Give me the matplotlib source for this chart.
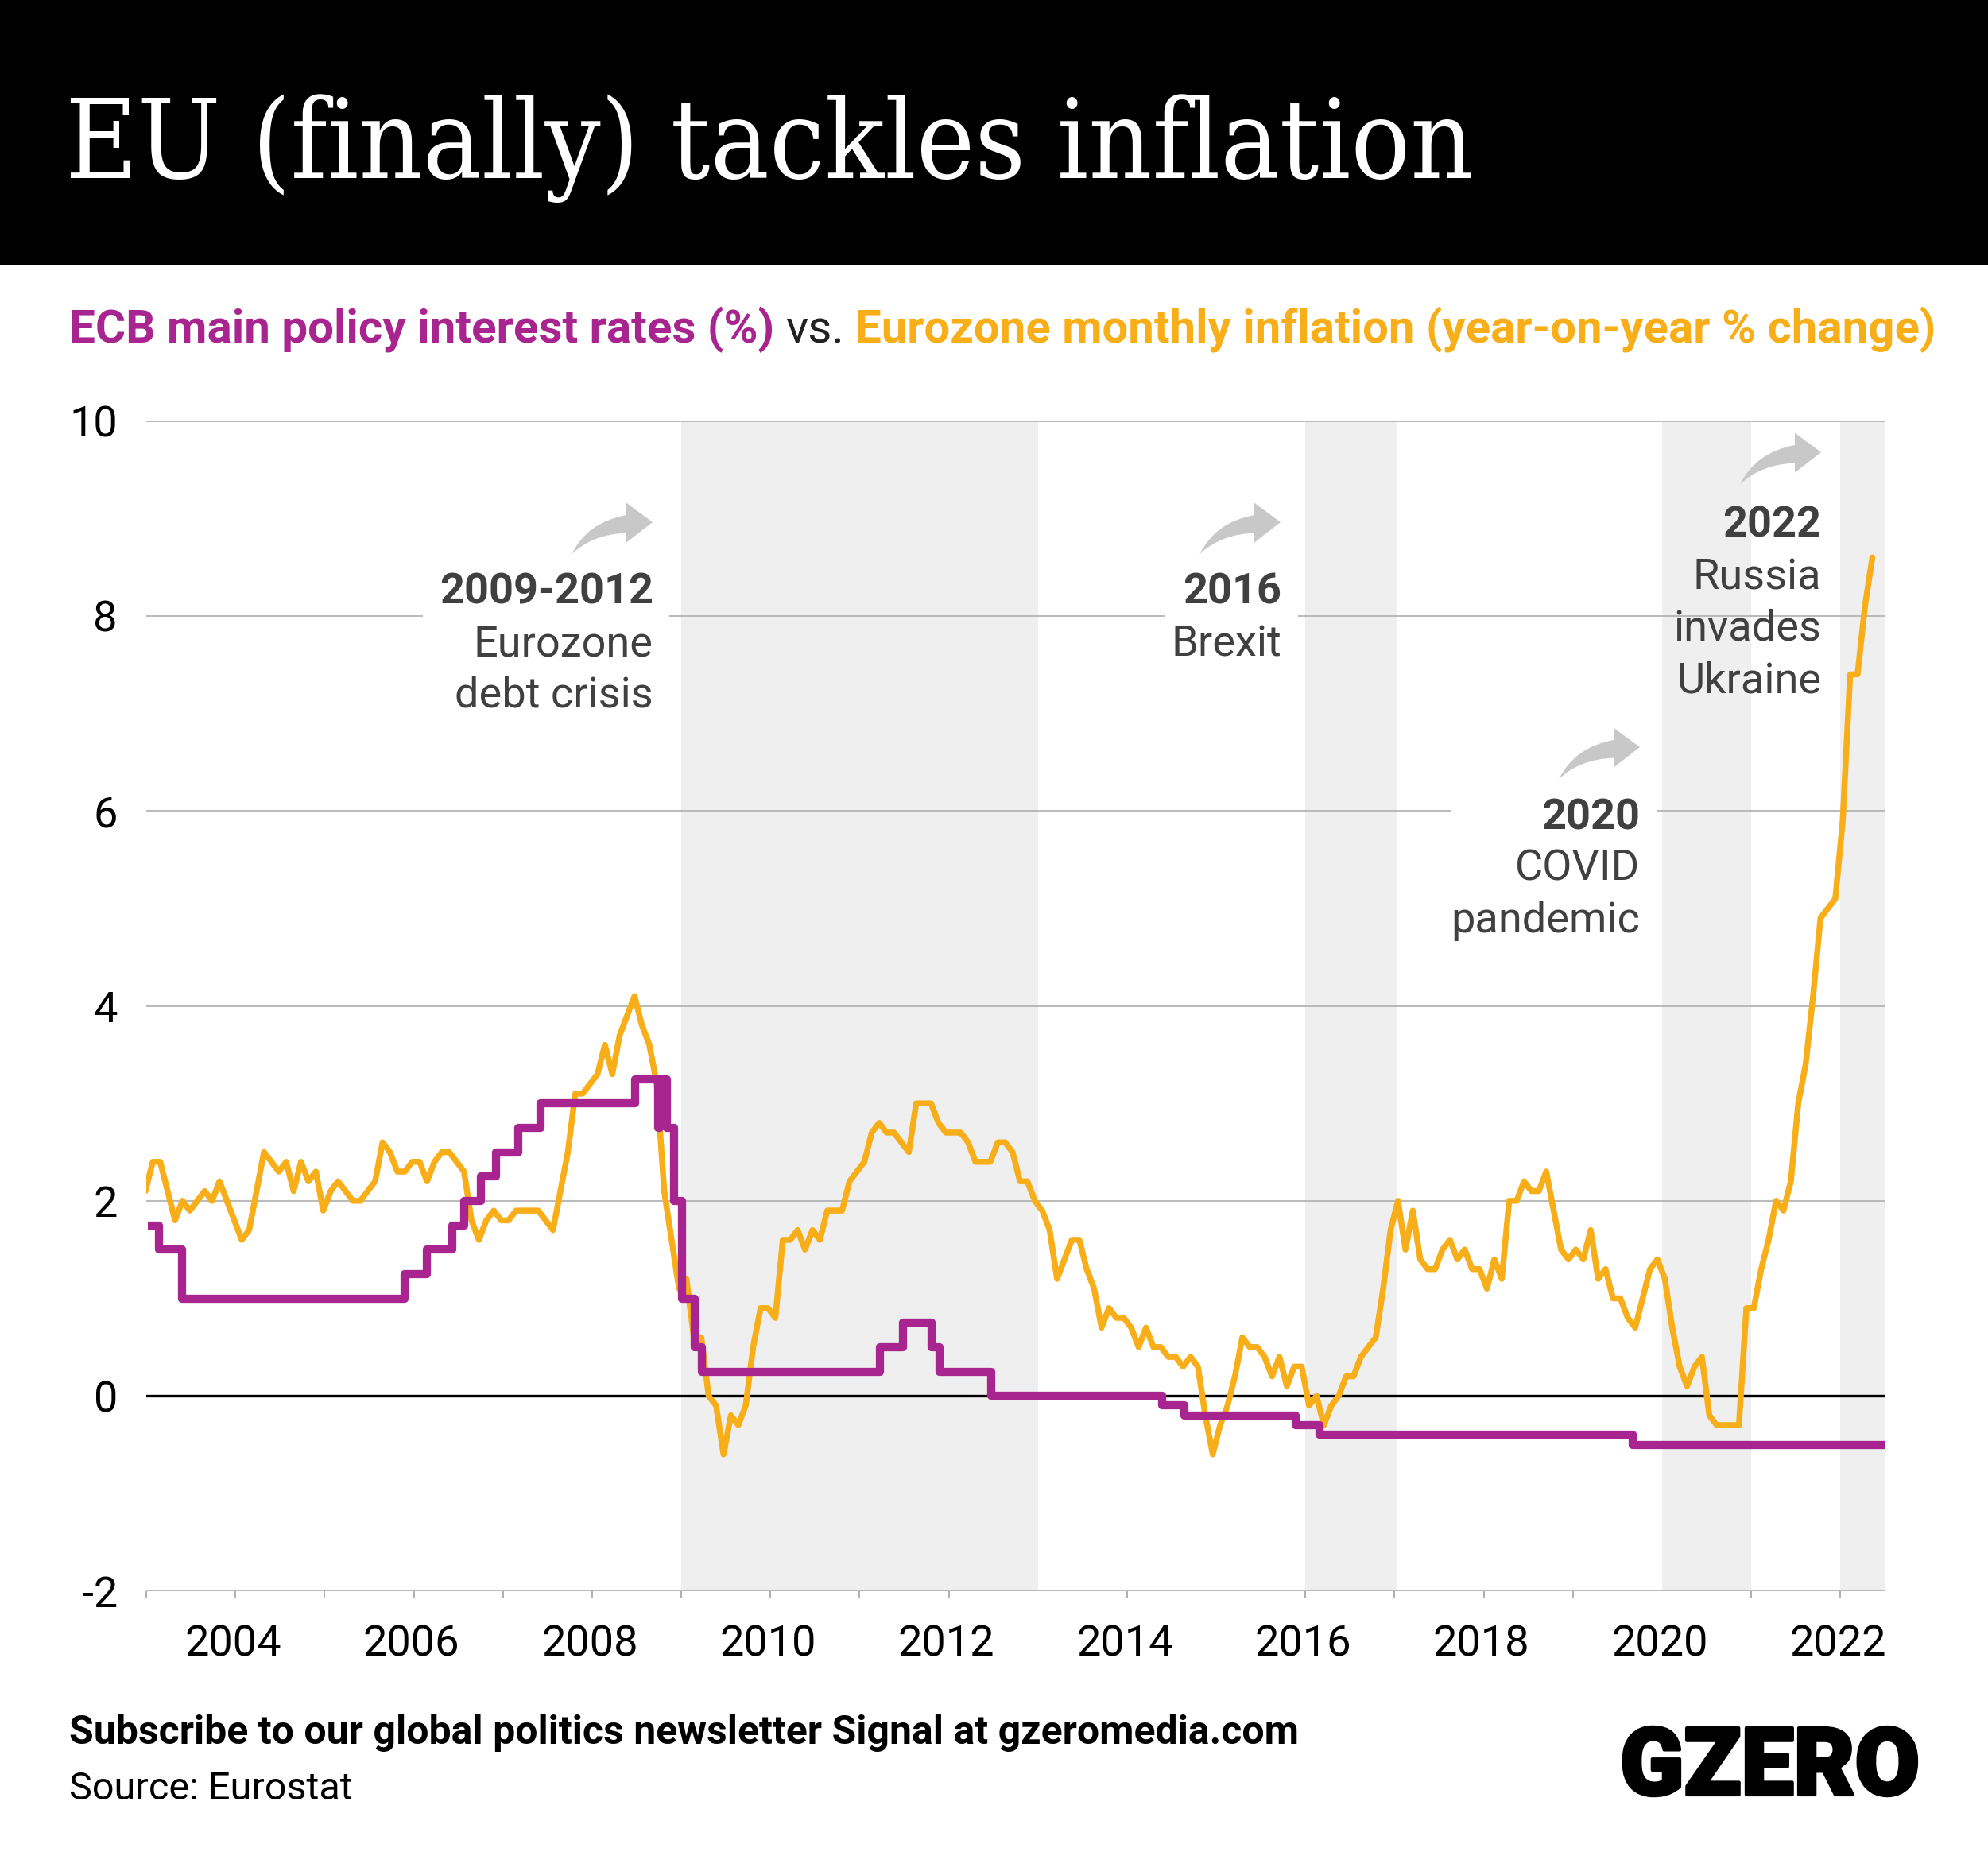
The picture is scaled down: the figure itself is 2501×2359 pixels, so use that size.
#!/usr/bin/env python3
import matplotlib
matplotlib.use('Agg')

import matplotlib.pyplot as plt
import matplotlib.patheffects as pe
import matplotlib.transforms as mtrans
import numpy as np
from matplotlib.patches import PathPatch, Rectangle
from matplotlib.path import Path
from matplotlib.ticker import FixedLocator

W, H = 2501, 2359

plt.rcParams['font.family'] = ['Roboto', 'DejaVu Sans']

# monthly inflation, one list per year (Jan 2003 - Jun 2022)
infl_2003 = [2.1, 2.4, 2.4, 2.1, 1.8, 2.0, 1.9, 2.0, 2.1, 2.0, 2.2, 2.0]
infl_2004 = [1.8, 1.6, 1.7, 2.1, 2.5, 2.4, 2.3, 2.4, 2.1, 2.4, 2.2, 2.3]
infl_2005 = [1.9, 2.1, 2.2, 2.1, 2.0, 2.0, 2.1, 2.2, 2.6, 2.5, 2.3, 2.3]
infl_2006 = [2.4, 2.4, 2.2, 2.4, 2.5, 2.5, 2.4, 2.3, 1.8, 1.6, 1.8, 1.9]
infl_2007 = [1.8, 1.8, 1.9, 1.9, 1.9, 1.9, 1.8, 1.7, 2.1, 2.5, 3.1, 3.1]
infl_2008 = [3.2, 3.3, 3.6, 3.3, 3.7, 3.9, 4.1, 3.8, 3.6, 3.2, 2.1, 1.6]
infl_2009 = [1.1, 1.2, 0.6, 0.6, 0.0, -0.1, -0.6, -0.2, -0.3, -0.1, 0.5, 0.9]
infl_2010 = [0.9, 0.8, 1.6, 1.6, 1.7, 1.5, 1.7, 1.6, 1.9, 1.9, 1.9, 2.2]
infl_2011 = [2.3, 2.4, 2.7, 2.8, 2.7, 2.7, 2.6, 2.5, 3.0, 3.0, 3.0, 2.8]
infl_2012 = [2.7, 2.7, 2.7, 2.6, 2.4, 2.4, 2.4, 2.6, 2.6, 2.5, 2.2, 2.2]
infl_2013 = [2.0, 1.9, 1.7, 1.2, 1.4, 1.6, 1.6, 1.3, 1.1, 0.7, 0.9, 0.8]
infl_2014 = [0.8, 0.7, 0.5, 0.7, 0.5, 0.5, 0.4, 0.4, 0.3, 0.4, 0.3, -0.2]
infl_2015 = [-0.6, -0.3, -0.1, 0.2, 0.6, 0.5, 0.5, 0.4, 0.2, 0.4, 0.1, 0.3]
infl_2016 = [0.3, -0.1, 0.0, -0.3, -0.1, 0.0, 0.2, 0.2, 0.4, 0.5, 0.6, 1.1]
infl_2017 = [1.7, 2.0, 1.5, 1.9, 1.4, 1.3, 1.3, 1.5, 1.6, 1.4, 1.5, 1.3]
infl_2018 = [1.3, 1.1, 1.4, 1.2, 2.0, 2.0, 2.2, 2.1, 2.1, 2.3, 1.9, 1.5]
infl_2019 = [1.4, 1.5, 1.4, 1.7, 1.2, 1.3, 1.0, 1.0, 0.8, 0.7, 1.0, 1.3]
infl_2020 = [1.4, 1.2, 0.7, 0.3, 0.1, 0.3, 0.4, -0.2, -0.3, -0.3, -0.3, -0.3]
infl_2021 = [0.9, 0.9, 1.3, 1.6, 2.0, 1.9, 2.2, 3.0, 3.4, 4.1, 4.9, 5.0]
infl_2022 = [5.1, 5.9, 7.4, 7.4, 8.1, 8.6]

# ECB rate: date of each change and the new level
rate_dates = [2003.02, 2003.14, 2003.40, 2005.90, 2006.15, 2006.43, 2006.57,
              2006.75, 2006.92, 2007.17, 2007.42, 2008.48, 2008.74, 2008.76,
              2008.84, 2008.92, 2009.01, 2009.15, 2009.23, 2011.23, 2011.49,
              2011.81, 2011.90, 2012.48, 2014.39, 2014.64, 2015.89, 2016.16,
              2019.67, 2022.50]
rate_values = [1.75, 1.5, 1.0, 1.25, 1.5, 1.75, 2.0,
               2.25, 2.5, 2.75, 3.0, 3.25, 2.75, 3.25,
               2.75, 2.0, 1.0, 0.5, 0.25, 0.5, 0.75,
               0.5, 0.25, 0.0, -0.1, -0.2, -0.3, -0.4,
               -0.5, -0.5]

shaded_years = [(2009, 2013), (2016, 2017.03), (2020, 2021), (2022, 2022.5)]
y_ticks = [-2, 0, 2, 4, 6, 8, 10]
label_years = [2004, 2006, 2008, 2010, 2012, 2014, 2016, 2018, 2020, 2022]
tick_years = [2003, 2004, 2005, 2006, 2007, 2008, 2009, 2010, 2011, 2012, 2014,
              2016, 2017, 2018, 2019, 2021, 2022]

PURPLE = '#A8258F'
AMBER = '#F7AE18'
DARK = '#404040'


def fx(px):
  return px / W


def fy(px):
  return 1 - px / H


def label(x, y, s, **kw):
  kw.setdefault('va', 'baseline')
  return fig.text(fx(x), fy(y), s, **kw)


def curved_arrow(tip_x, tip_y):
  # block arrow, offsets in pixels from the tip (y down)
  pts = [(0, 0), (-33, 25.6), (-33, 13.6), (-75, 15), (-101.7, 40),
         (-82, 0), (-33, -9), (-33, -24.4), (0, 0)]
  codes = [Path.MOVETO, Path.LINETO, Path.LINETO, Path.CURVE3, Path.CURVE3,
           Path.CURVE3, Path.CURVE3, Path.LINETO, Path.CLOSEPOLY]
  verts = [(fx(tip_x + dx), fy(tip_y + dy)) for dx, dy in pts]
  fig.add_artist(PathPatch(Path(verts, codes), facecolor='#C8C8C8',
                           edgecolor='none', transform=fig.transFigure, zorder=5))


fig = plt.figure(figsize=(W / 100, H / 100), dpi=100, facecolor='white')
fig.add_artist(Rectangle((0, fy(333)), 1, 333 / H, facecolor='black', edgecolor='none',
                         transform=fig.transFigure, zorder=0))

ax = fig.add_axes([fx(184), fy(2001.5), (2372 - 184) / W, (2001.5 - 529.5) / H])
ax.set_xlim(2003, 2022.505)
ax.set_ylim(-2, 10)
ax.patch.set_visible(False)

for start, end in shaded_years:
  ax.axvspan(start, end, facecolor='#EFEFEF', edgecolor='none', zorder=0)

for y in y_ticks:
  if y == 0:
    continue
  ax.axhline(y, color='#B4B4B4', lw=1.3, zorder=1)
ax.axhline(0, color='black', lw=2.4, zorder=2)

# white breaks in the gridlines behind the annotations
for x0, x1, y in [(2006.10, 2008.87, 8), (2014.42, 2015.92, 8), (2017.64, 2019.95, 6)]:
  ax.add_patch(Rectangle((x0, y - 0.1), x1 - x0, 0.2, facecolor='white', edgecolor='none', zorder=1.5))

inflation = np.concatenate([infl_2003, infl_2004, infl_2005, infl_2006, infl_2007,
                            infl_2008, infl_2009, infl_2010, infl_2011, infl_2012,
                            infl_2013, infl_2014, infl_2015, infl_2016, infl_2017,
                            infl_2018, infl_2019, infl_2020, infl_2021, infl_2022])
# months sit a touch left of the year ticks in the original
months = 2003 - 0.01 + np.arange(len(inflation)) / 12.03

ax.plot(months, inflation, color=AMBER, lw=5.4, solid_joinstyle='round',
        solid_capstyle='round', zorder=3)
ax.plot(rate_dates, rate_values, color=PURPLE, lw=7.4, drawstyle='steps-post',
        solid_joinstyle='round', solid_capstyle='butt', zorder=4)

for s in ['top', 'right', 'left', 'bottom']:
  ax.spines[s].set_visible(False)
ax.xaxis.remove_overlapping_locs = False
ax.xaxis.set_major_locator(FixedLocator(label_years))
ax.xaxis.set_minor_locator(FixedLocator(tick_years))
ax.set_xticklabels([str(y) for y in label_years])
ax.set_yticks(y_ticks)
ax.set_yticklabels([str(y) for y in y_ticks])
ax.tick_params(axis='y', length=0, pad=26, labelsize=39, labelcolor='black')
ax.tick_params(axis='x', which='major', length=0, pad=30, labelsize=39, labelcolor='black')
ax.tick_params(axis='x', which='minor', length=5.5, width=1.1, color='#999999')

# year labels sit slightly left of their ticks
shift = mtrans.ScaledTranslation(-3 / 100, 0, fig.dpi_scale_trans)
for tick_label in ax.get_xticklabels():
  tick_label.set_transform(tick_label.get_transform() + shift)

# title band
label(82, 224, 'EU (finally) tackles inflation', color='white', fontsize=99.5,
      family=['DejaVu Serif'], fontstretch='condensed')

# coloured subtitle
label(87, 431, 'ECB main policy interest rates (%)', color=PURPLE, fontsize=42, fontweight='bold')
label(988, 431, 'vs.', color='#222222', fontsize=42)
label(1076, 431, 'Eurozone monthly inflation (year-on-year % change)', color=AMBER,
      fontsize=41.9, fontweight='bold')

# annotations
notes = [
  (822, 760, '2009-2012', ['Eurozone', 'debt crisis']),
  (1612, 760, '2016', ['Brexit']),
  (2063, 1043, '2020', ['COVID', 'pandemic']),
  (2291, 676, '2022', ['Russia', 'invades', 'Ukraine']),
]
for x, y, head, lines in notes:
  label(x, y, head, color=DARK, fontsize=39, fontweight='bold', ha='right')
  for i, line in enumerate(lines):
    label(x, y + 65 * (i + 1), line, color=DARK, fontsize=39, ha='right')

curved_arrow(821, 657)
curved_arrow(1611, 657)
curved_arrow(2063, 940)
curved_arrow(2291, 569)

# footer
label(87, 2194, 'Subscribe to our global politics newsletter Signal at gzeromedia.com',
      color='black', fontsize=36, fontweight='bold')
label(87, 2264, 'Source: Eurostat', color='black', fontsize=35)
logo = label(2415, 2258, 'GZERO', color='black', fontsize=85, fontweight='black', ha='right')
logo.set_path_effects([pe.withStroke(linewidth=3, foreground='black')])

fig.savefig('out.png', dpi=100)
